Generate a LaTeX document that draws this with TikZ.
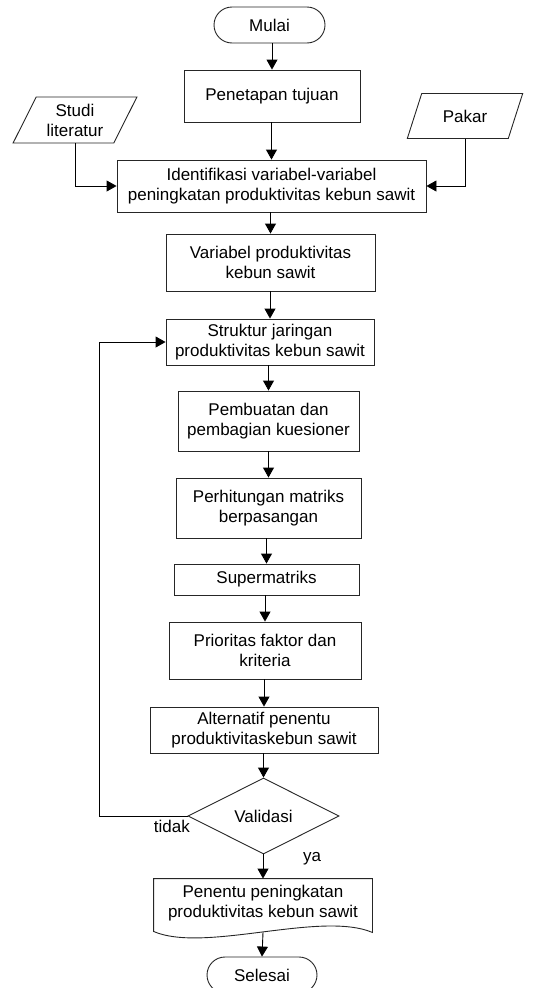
\documentclass[tikz,border=0pt]{standalone}
\usepackage{fontspec}
\setmainfont{Liberation Sans}
\usetikzlibrary{
  arrows.meta,
  calc,
  shapes.geometric,
  shapes.misc,
  positioning
}
\tikzset{
  flow/.style={-{Triangle[length=10pt,width=11pt]},line width=.9pt,draw=black},
  box/.style={
    draw=black!85,
    line width=.9pt,
    align=center,
    inner xsep=3pt,
    inner ysep=2pt
  },
  terminal/.style={box,rounded rectangle,minimum width=117pt,minimum height=36pt},
  io/.style={
    box,
    trapezium,
    trapezium left angle=63,
    trapezium right angle=117,
    trapezium stretches=true
  },
  decision/.style={box,diamond,aspect=2,minimum width=151pt,minimum height=76pt},
  smalllabel/.style={inner sep=0pt}
}
\newcommand{\procnode}[6][]{%
  \node[box,minimum width=#4pt,minimum height=#5pt,#1] (#2) at (#3) {#6};%
}

\begin{document}
\begin{tikzpicture}[font=\fontsize{17}{20}\selectfont,x=1pt,y=-1pt]
  \useasboundingbox (0,0) rectangle (533,988);

  \node[terminal] (mulai) at (269.5,25) {Mulai};
  \procnode{tujuan}{272,96}{176}{52}{Penetapan tujuan}
  \node[io,minimum width=124pt,minimum height=46pt] (studi) at (75,120) {Studi\\literatur};
  \node[io,minimum width=116pt,minimum height=45pt] (pakar) at (465,116) {Pakar};
  \procnode{ident}{271.5,186}{309}{52}{Identifikasi variabel-variabel\\peningkatan produktivitas kebun sawit}
  \procnode{variabel}{270.5,262.5}{209}{57}{Variabel produktivitas\\kebun sawit}
  \procnode{struktur}{270,342}{208}{46}{Struktur jaringan\\produktivitas kebun sawit}
  \procnode{pembuatan}{268.5,421}{181}{60}{Pembuatan dan\\pembagian kuesioner}
  \procnode{perhitungan}{268.5,508}{185}{60}{Perhitungan matriks\\berpasangan}
  \procnode{supermatriks}{266.5,579.5}{185}{31}{Supermatriks}
  \procnode{prioritas}{265,650.5}{192}{57}{Prioritas faktor dan\\kriteria}
  \procnode{alternatif}{264,730}{228}{46}{Alternatif penentu\\produktivitaskebun sawit}
  \node[decision] (validasi) at (263.5,816) {Validasi};
  \procnode[draw=none]{penentu}{263,903}{218}{48}{Penentu peningkatan\\produktivitas kebun sawit}
  \node[terminal,minimum width=116pt] (selesai) at (262,975) {Selesai};

  \draw[line width=.9pt,draw=black!85] (penentu.south east) -- (penentu.north east)
    -- (penentu.north west) -- ($(penentu.south west)+(0,4)$)
    .. controls +(51,22) and +(-52,-22) .. ($(penentu.south east)+(0,5)$) -- cycle;
  \coordinate (wave) at ($(penentu.south)+(0,5)$);
  \coordinate (loop) at (99,816);

  \foreach \a/\b in {mulai/tujuan,tujuan/ident,ident/variabel,variabel/struktur,
      struktur/pembuatan,pembuatan/perhitungan,perhitungan/supermatriks,
      supermatriks/prioritas,prioritas/alternatif,alternatif/validasi,validasi/penentu} {
    \draw[flow] (\a.south -| \b.north) -- (\b.north);
  }
  \draw[flow] (wave) -- (selesai.north);
  \draw[flow] (studi.south) |- (ident.west);
  \draw[flow] (pakar.south) |- (ident.east);
  \draw[flow] (validasi.west) -- (loop) |- (struktur.west);

  \node[smalllabel,anchor=north east] (tidak) at (190,820) {tidak};
  \node[smalllabel] (ya) at (312,859) {ya};
\end{tikzpicture}
\end{document}
